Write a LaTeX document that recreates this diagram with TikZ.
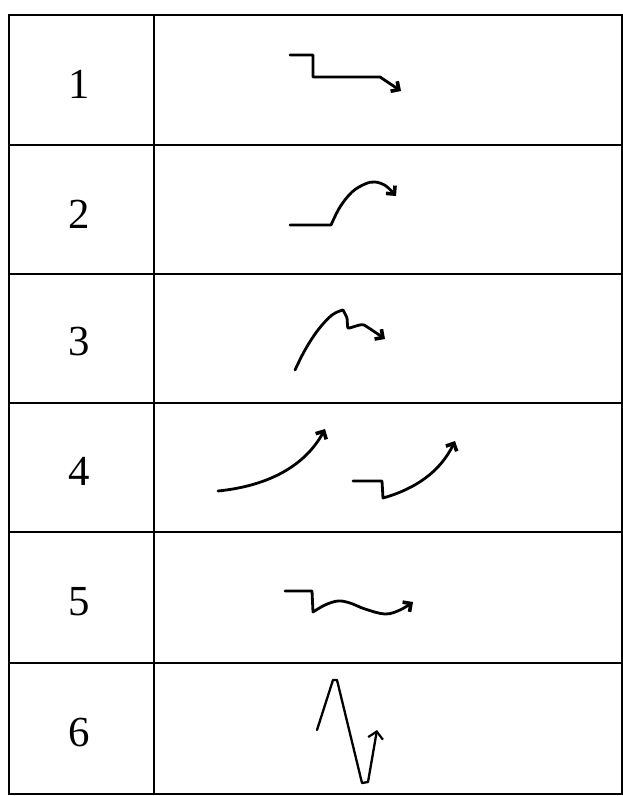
\documentclass[tikz,border=0pt]{standalone}
\usepackage{fontspec}
\setmainfont{Liberation Serif}
\usetikzlibrary{arrows.meta}
\begin{document}
\begin{tikzpicture}[x=1bp,y=-1bp,
  grid/.style={line width=2.2bp,line cap=rect},
  num/.style={font=\fontsize{43}{48}\selectfont,inner sep=0pt},
  sketch/.style={line width=2.8bp,line join=round,line cap=round},
  boldtip/.style={-{Straight Barb[length=6bp,width=12bp,line width=3.6bp]}},
  thintip/.style={-{Straight Barb[length=7bp,width=15bp,line width=2.2bp]}}]
\useasboundingbox (0,0) rectangle (623,796);
% table
\draw[grid] (9,15) rectangle (622,794);
\draw[grid] (154,15) -- (154,794);
\foreach \yy in {145,274,403,532,663} \draw[grid] (9,\yy) -- (622,\yy);
% numbers
\node[num] (n1) at (79,84) {1};
\node[num] (n2) at (79,214) {2};
\node[num] (n3) at (79,342) {3};
\node[num] (n4) at (79,471) {4};
\node[num] (n5) at (79,602) {5};
\node[num] (n6) at (79,733) {6};
% row 1
\draw[sketch,boldtip] (290,55) -- (313,55) -- (313,77) -- (380,77) -- (401,91);
% row 2
\draw[sketch,boldtip] (290,225) -- (331,225) plot[smooth,tension=0.6] coordinates {(331,225) (340,207) (352,192) (365,184) (375,182) (386,186) (396,196)};
% row 3
\draw[sketch] plot[smooth,tension=0.6] coordinates {(295,370) (305,350) (318,330) (332,315) (343,310)};
\draw[sketch,boldtip] plot[smooth,tension=0.3] coordinates {(343,310) (347,318) (348,328) (356,326) (364,325) (385,339)};
% row 4
\draw[sketch,boldtip] (218,491) .. controls (268,486) and (305,466) .. (325,429);
\draw[sketch,boldtip] (353,481) -- (382,481) -- (383,498) .. controls (415,489) and (440,472) .. (455,441);
% row 5
\draw[sketch] (285,591) -- (312,591) -- (313,612);
\draw[sketch,boldtip] plot[smooth,tension=0.6] coordinates {(313,612) (325,605) (338,601) (350,603) (365,609) (385,614) (400,610) (413,602)};
% row 6
\draw[sketch,line width=2.3bp,thintip] (317,730) -- (333,680) -- (337,680) -- (362,783) -- (368,782) -- (377,730);
\end{tikzpicture}
\end{document}
